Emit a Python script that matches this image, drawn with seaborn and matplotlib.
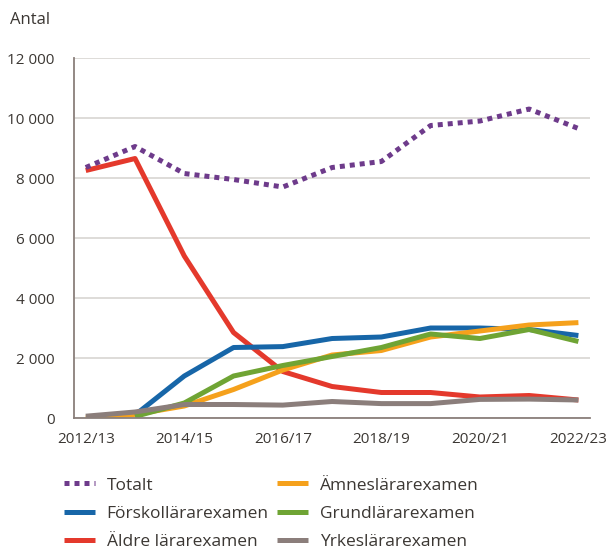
import matplotlib
matplotlib.use("Agg")
import matplotlib.pyplot as plt
from matplotlib.ticker import FuncFormatter
import numpy as np
import pandas as pd
import seaborn as sns

years = ["2012/13", "2013/14", "2014/15", "2015/16", "2016/17", "2017/18",
         "2018/19", "2019/20", "2020/21", "2021/22", "2022/23"]
totalt = [8350, 9050, 8150, 7950, 7700, 8350, 8550, 9750, 9900, 10300, 9650]
forskol = [np.nan, 100, 1400, 2350, 2380, 2650, 2700, 3000, 3000, 2950, 2750]
aldre = [8250, 8650, 5400, 2850, 1550, 1050, 850, 850, 700, 750, 600]
amnes = [0, 120, 400, 950, 1600, 2100, 2250, 2700, 2900, 3100, 3180]
grund = [np.nan, 50, 500, 1400, 1750, 2050, 2350, 2800, 2650, 2950, 2550]
yrkes = [60, 200, 450, 450, 430, 550, 480, 480, 620, 630, 600]

tick_years = years[::2]

series = [
    ("Totalt", totalt, "#6e3b8b"),
    ("Förskollärarexamen", forskol, "#1766a8"),
    ("Äldre lärarexamen", aldre, "#e4392c"),
    ("Ämneslärarexamen", amnes, "#f5a11c"),
    ("Grundlärarexamen", grund, "#6fa434"),
    ("Yrkeslärarexamen", yrkes, "#8b7e7b"),
]

sns.set_style("white")
plt.rcParams['font.family'] = ['Open Sans', 'DejaVu Sans']
txt = "#3b3733"

fig = plt.figure(figsize=(6.11, 5.5), dpi=100)
ax = fig.add_axes([0.121, 0.24, 0.845, 0.6545])

x = np.arange(len(years))
# grey drawn late so it sits on top of the others, like the original
draw_order = ["Äldre lärarexamen", "Förskollärarexamen", "Ämneslärarexamen",
              "Grundlärarexamen", "Yrkeslärarexamen", "Totalt"]
lookup = {name: (vals, col) for name, vals, col in series}
handles = {}
for name in draw_order:
    vals, col = lookup[name]
    df = pd.DataFrame({"x": x, "y": vals}).dropna()
    sns.lineplot(data=df, x="x", y="y", ax=ax, color=col, linewidth=3.6,
                 label=name)
    line = ax.lines[-1]
    if name == "Totalt":
        line.set_dashes((1, 1))
        line.set_dash_capstyle("butt")
    else:
        line.set_solid_capstyle("butt")
    handles[name] = line

ax.get_legend().remove()

ax.set_xlim(-0.24, 10.24)
ax.set_ylim(0, 12000)
ax.set_yticks(np.arange(0, 12001, 2000))
ax.yaxis.set_major_formatter(FuncFormatter(lambda v, p: f"{int(v):,}".replace(",", " ")))
ax.set_xticks(x[::2])
ax.set_xticklabels(tick_years)
ax.grid(axis="y", color="#d8d5d2", linewidth=1.2)
ax.set_axisbelow(True)
for s in ["top", "right"]:
    ax.spines[s].set_visible(False)
for s in ["left", "bottom"]:
    ax.spines[s].set_color("#8a7f7b")
    ax.spines[s].set_linewidth(1.3)
ax.tick_params(axis="both", length=0, labelsize=11, colors=txt)
ax.tick_params(axis="x", pad=10)
ax.tick_params(axis="y", pad=14)
ax.set_xlabel("")
ax.set_ylabel("")

fig.text(0.016, 0.963, "Antal", fontsize=12, color=txt, va="center", ha="left")

order = ["Totalt", "Förskollärarexamen", "Äldre lärarexamen",
         "Ämneslärarexamen", "Grundlärarexamen", "Yrkeslärarexamen"]
leg = fig.legend([handles[n] for n in order], order, ncol=2,
                 loc="upper left", bbox_to_anchor=(0.105, 0.132),
                 frameon=False, fontsize=12.5, handlelength=1.75,
                 handletextpad=0.7, columnspacing=0.5, labelspacing=0.7,
                 borderaxespad=0, borderpad=0)
for t in leg.get_texts():
    t.set_color(txt)

fig.savefig("out.png", dpi=100)
